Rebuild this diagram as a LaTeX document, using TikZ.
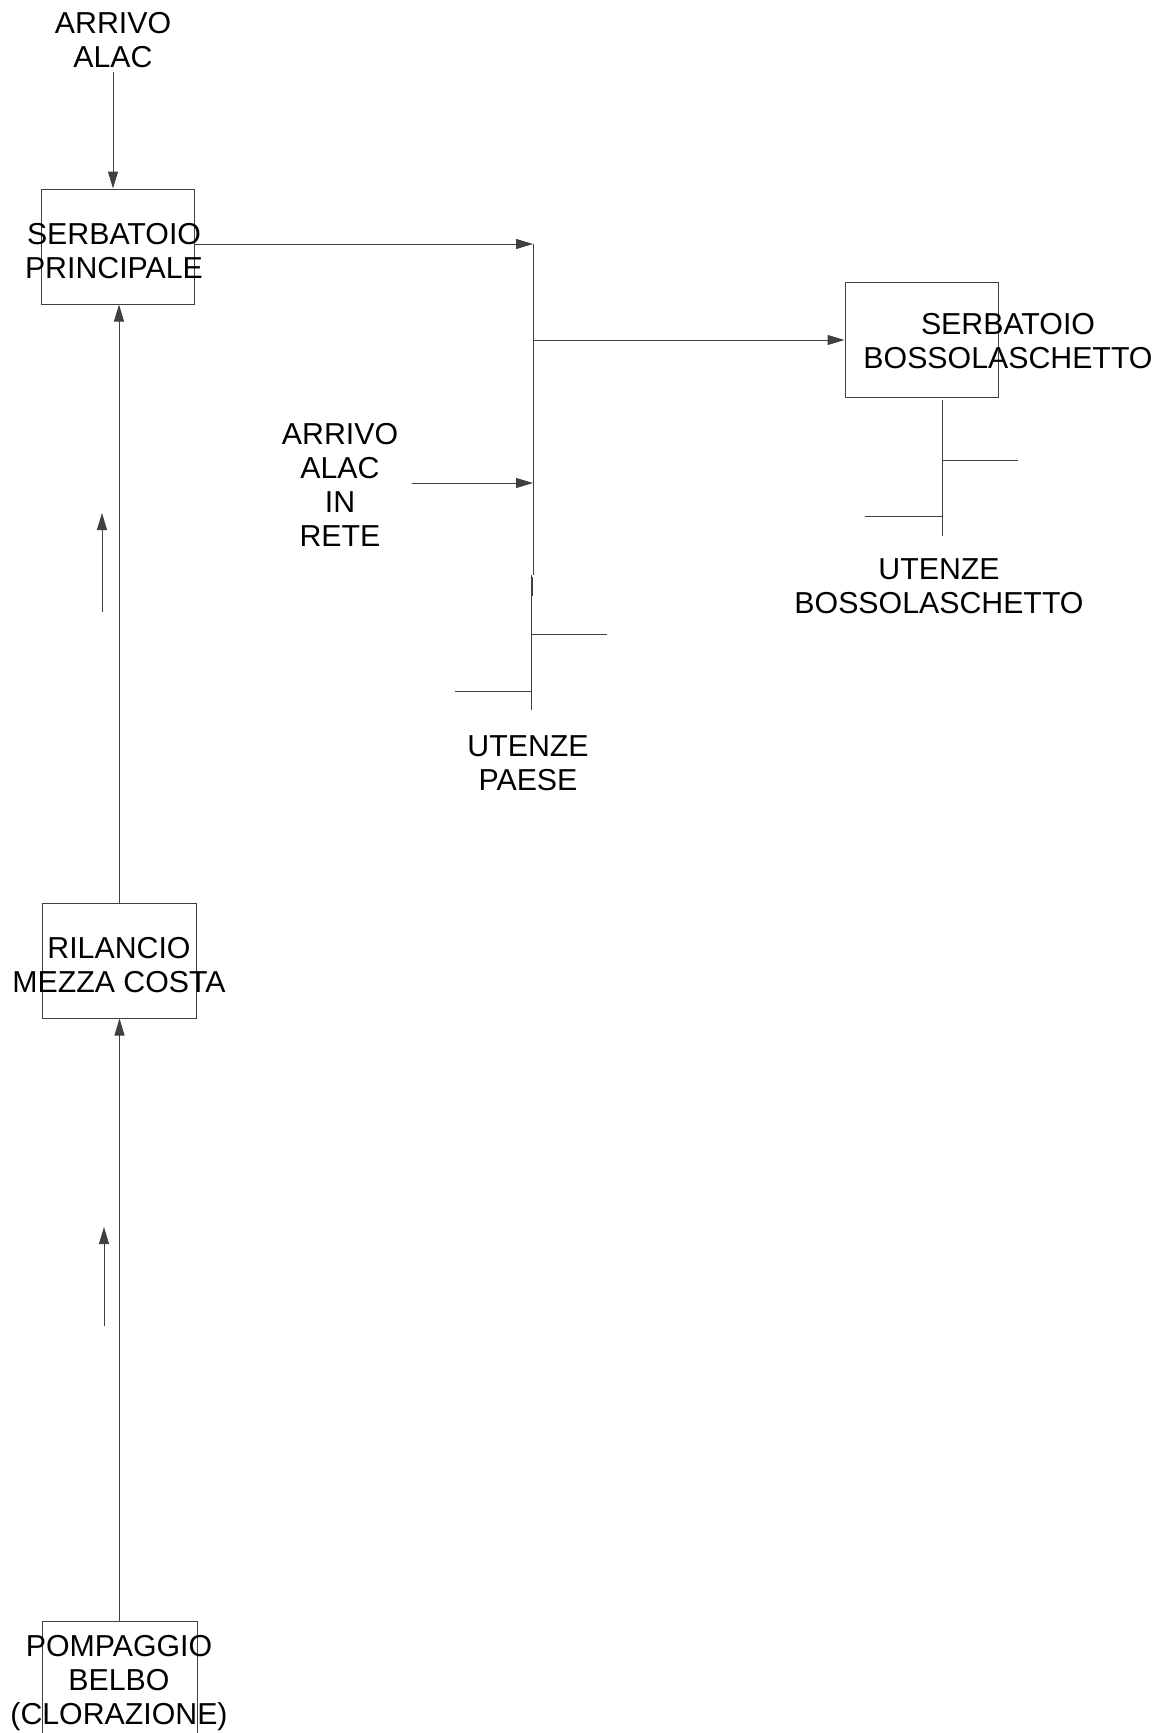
\documentclass[tikz,border=0pt]{standalone}
\usepackage{fontspec}
\setmainfont{Liberation Sans}
\usetikzlibrary{arrows.meta}
\definecolor{ln}{HTML}{404040}
\tikzset{
  lbl/.style={font=\fontsize{30.3}{34}\selectfont, align=center, inner sep=0pt, anchor=north, text=black},
  tank/.style={draw=ln, line width=1pt, inner sep=0pt},
  pipe/.style={draw=ln, line width=1pt},
  arr/.style={pipe, -{Triangle[length=17pt,width=10pt]}},
}
\begin{document}
\begin{tikzpicture}[x=1pt,y=-1pt]
\useasboundingbox (0,0) rectangle (1168,1733);
\clip (0,0) rectangle (1168,1733);
\fill[white] (0,0) rectangle (1168,1733);

% boxes
\node[tank, minimum width=153, minimum height=115] (sp) at (117.5,246.5) {};
\node[tank, minimum width=153, minimum height=115] (sb) at (921.5,339.5) {};
\node[tank, minimum width=154, minimum height=115] (rmc) at (119,960.5) {};
\node[tank, minimum width=155, minimum height=124] (pbc) at (119.5,1683) {};

% texts
\node[lbl] (a1) at (113,12) {ARRIVO\\ALAC};
\node[lbl] (tsp) at (114,223) {SERBATOIO\\PRINCIPALE};
\node[lbl] (a2) at (340,423) {ARRIVO\\ALAC\\IN\\RETE};
\node[lbl] (up) at (528,735) {UTENZE\\PAESE};
\node[lbl] (tsb) at (1008,313) {SERBATOIO\\BOSSOLASCHETTO};
\node[lbl] (ub) at (939,558) {UTENZE\\BOSSOLASCHETTO};
\node[lbl] (trmc) at (119,937) {RILANCIO\\MEZZA COSTA};
\node[lbl] (tpbc) at (119,1635) {POMPAGGIO\\BELBO\\(CLORAZIONE)};

% junction coordinates
\coordinate (j1) at (533,244);
\coordinate (j2) at (533,340);
\coordinate (j3) at (533,483);
\coordinate (jb) at (533,575);
\coordinate (p1) at (531.5,575);
\coordinate (p2) at (531.5,710);
\coordinate (pr) at (607,634);
\coordinate (pl) at (455,691);
\coordinate (ar) at (412,483);
\coordinate (b1) at (942,400);
\coordinate (b2) at (942,536);
\coordinate (br) at (1018,460);
\coordinate (bl) at (865,516);
\coordinate (s1a) at (102,612);
\coordinate (s1b) at (102,513);
\coordinate (s2a) at (104,1326);
\coordinate (s2b) at (104,1227);

% connectors
\draw[arr] ([yshift=-4pt]a1.south) -- (a1.south |- sp.north);
\draw[arr] (sp.east |- j1) -- (j1);
\draw[pipe] (j1) -- (jb);
\draw[pipe] (p1) -- (p2);
\draw[line width=1.8pt, draw=ln] (532,577) -- (532,596);
\draw[arr] (j2) -- (sb.west |- j2);
\draw[arr] (ar) -- (j3);
\draw[pipe] (p1 |- pr) -- (pr);
\draw[pipe] (pl) -- (p1 |- pl);
\draw[pipe] (b1) -- (b2);
\draw[pipe] (b1 |- br) -- (br);
\draw[pipe] (bl) -- (b1 |- bl);
\draw[arr] (rmc.north) -- (rmc.north |- sp.south);
\draw[arr] (pbc.north) -- (pbc.north |- rmc.south);
\draw[arr] (s1a) -- (s1b);
\draw[arr] (s2a) -- (s2b);
\end{tikzpicture}
\end{document}
